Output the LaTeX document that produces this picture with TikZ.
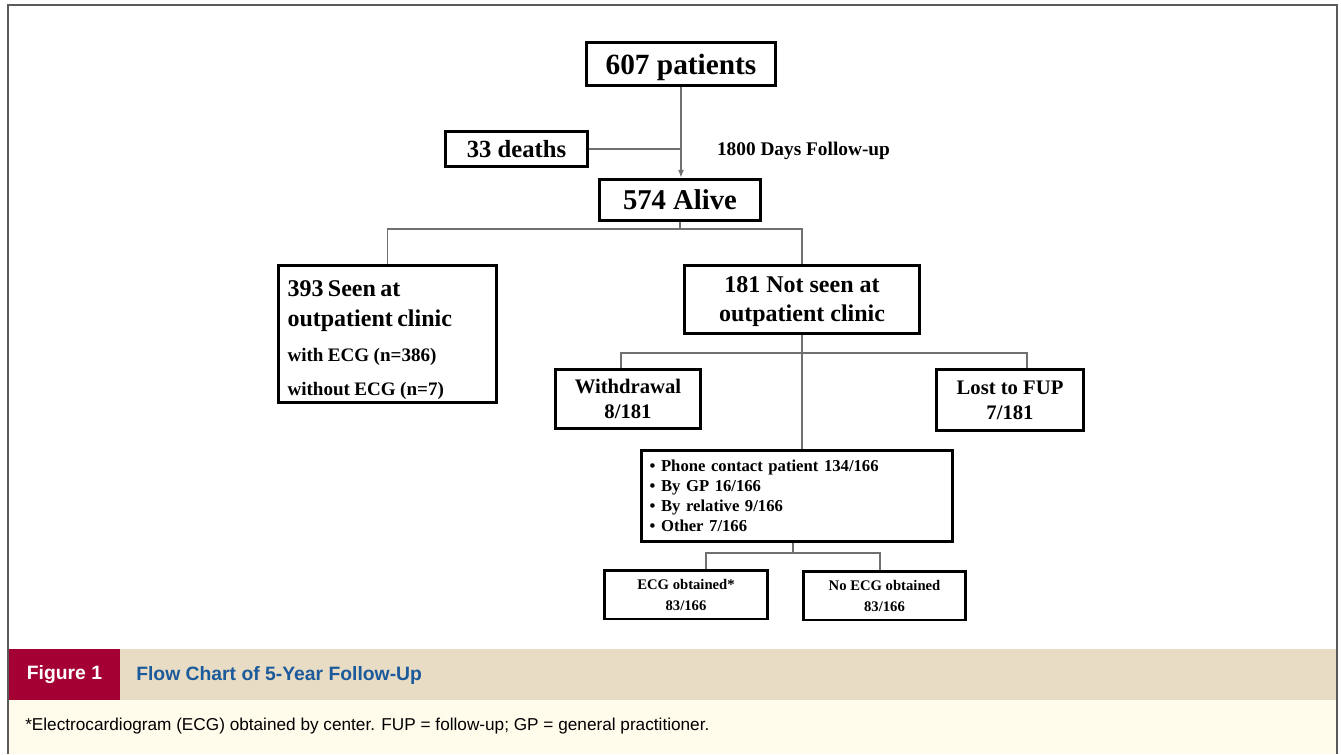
\documentclass[tikz,border=0pt]{standalone}
\usepackage{fontspec}
\setmainfont{Liberation Serif}
\setsansfont{Liberation Sans}
\usepackage{tikz}
\usetikzlibrary{positioning}
\usetikzlibrary{arrows.meta}
\definecolor{linkgray}{HTML}{707070}
\definecolor{framegray}{HTML}{5A5A5A}
\definecolor{capred}{HTML}{A50034}
\definecolor{captan}{HTML}{E8DCC5}
\definecolor{capcream}{HTML}{FFFCEC}
\definecolor{capblue}{HTML}{1B5A9B}
\newcommand{\fsz}[2]{\fontsize{#1}{#2}\selectfont}
\tikzset{
    box/.style={ % Boxes of the flow chart
        draw,
        line width=2.2pt,
        inner sep=0pt,
        align=center,
        font=\bfseries
    },
    link/.style={ % Thin grey connectors
        draw=linkgray,
        line width=1.1pt
    },
    >={Latex[length=6pt,width=4.5pt]}
}

\begin{document}
\begin{tikzpicture}[x=0.75pt, y=-0.75pt]
            \useasboundingbox (0,0) rectangle (1341,754);

            % caption bands and frame
            \fill[capcream] (8,700) rectangle (1337,754);
            \fill[captan] (8,649) rectangle (1337,700);
            \fill[capred] (9,649) rectangle (120,700);
            \draw[framegray, line width=1.3pt] (8,754) -- (8,5) -- (1337,5) -- (1337,754);

            \node[font=\sffamily\bfseries\fsz{14.5}{17}, text=white] (fig) at (64.5,675) {Figure 1};
            \node[font=\sffamily\bfseries\fsz{14.5}{17}, text=capblue, anchor=west, inner sep=0pt] (title) at (136,675) {Flow Chart of 5-Year Follow-Up};
            \node[font=\sffamily\fsz{12.9}{15}, anchor=west, inner sep=0pt] (note) at (25,726) {*Electrocardiogram (ECG) obtained by center. FUP = follow-up; GP = general practitioner.};

            % boxes
            \node[box, minimum width=142pt, minimum height=32.5pt, text depth=0pt, font=\bfseries\fsz{22}{26}] (pat) at (681,64) {607 patients};
            \node[box, minimum width=107pt, minimum height=26.5pt, font=\bfseries\fsz{18.5}{22}] (deaths) at (516.5,149) {33 deaths};
            \node[font=\bfseries\fsz{14.5}{17}, inner sep=0pt] (fup) at (803.5,151) {1800 Days Follow-up};
            \node[box, minimum width=121pt, minimum height=31pt, font=\bfseries\fsz{21.5}{25}] (alive) at (680,200) {574 Alive};

            \node[box, minimum width=163.5pt, minimum height=103pt, align=left, text width=150pt, inner xsep=6.5pt] (seen) at (387.5,334)
                {{\fsz{18}{22}\rule{0pt}{21pt}393 Seen at\par}{\fsz{18}{22.5}outpatient clinic\par}%
                 {\fsz{14.3}{26.5}with ECG (n=386)\par}{\fsz{14.3}{25.5}without ECG (n=7)\par}};
            \node[box, minimum width=176.5pt, minimum height=51pt, text depth=0pt, font=\bfseries\fsz{18}{21.75}] (notseen) at (802,299.5) {181 Not seen at\\outpatient clinic};

            \node[box, minimum width=109pt, minimum height=44.5pt, font=\bfseries\fsz{15.5}{18.75}] (withdr) at (628,399) {Withdrawal\\8/181};
            \node[box, minimum width=110.5pt, minimum height=46pt, font=\bfseries\fsz{15.5}{18.75}] (lost) at (1010,400) {Lost to FUP\\7/181};

            \node[box, minimum width=233.5pt, minimum height=68.5pt, align=left, text width=221pt, font=\bfseries\fsz{12.5}{15}] (phone) at (797,496)
                {\textbullet{} Phone contact patient 134/166\\\textbullet{} By GP 16/166\\\textbullet{} By relative 9/166\\\textbullet{} Other 7/166};

            \node[box, minimum width=122.5pt, minimum height=36.5pt, line width=2pt, font=\bfseries\fsz{11}{13.25}] (ecg) at (686,594.5) {ECG obtained*\\[2.5pt]83/166};
            \node[box, minimum width=121.75pt, minimum height=36.5pt, line width=2pt, font=\bfseries\fsz{11}{13.25}] (noecg) at (884.5,595.5) {No ECG obtained\\[2.5pt]83/166};

            % connectors
            \coordinate (split1) at (680,229);
            \coordinate (split2) at (799,353);
            \coordinate (split3) at (793,553);

            \draw[link, ->] (pat.south) -- (pat.south |- alive.north);
            \draw[link] (deaths.east) -- (deaths.east -| pat.south);

            \draw[link] (alive.south) -- (split1);
            \draw[link] (seen.north) |- (split1) -| (notseen.north);

            \draw[link] (notseen.south) -- (notseen.south |- phone.north);
            \draw[link] ([xshift=-5.25pt]withdr.north) |- (split2) -| ([xshift=12.75pt]lost.north);

            \draw[link] ([xshift=-3pt]phone.south) -- (split3);
            \draw[link] ([xshift=15pt]ecg.north) |- (split3) -| ([xshift=-3.4pt]noecg.north);
        \end{tikzpicture}
\end{document}
